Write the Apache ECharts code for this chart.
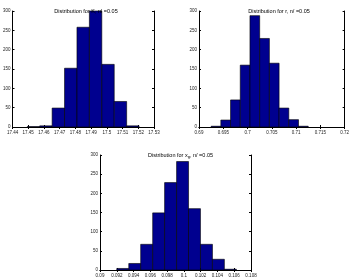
<!DOCTYPE html>
<html>
<head>
<meta charset="utf-8">
<script src="https://cdn.jsdelivr.net/npm/echarts@6/dist/echarts.min.js"></script>
<style>
  html, body { margin: 0; padding: 0; background: #fff; }
  #main { width: 352px; height: 280px; }
</style>
</head>
<body>
<div id="main"></div>
<script>
// histogram data (bin start, counts); bins are equal width
var kStarts = [17.4494, 17.4573, 17.4652, 17.4731, 17.4810, 17.4889, 17.4968, 17.5047, 17.5126];
var kCounts = [1, 3, 49, 152, 258, 300, 162, 66, 3];
var kWidth = 0.0079;

var rStarts = [0.6925, 0.6945, 0.6965, 0.6985, 0.7005, 0.7025, 0.7045, 0.7065, 0.7085, 0.7105];
var rCounts = [2, 18, 70, 160, 288, 229, 165, 49, 19, 2];
var rWidth = 0.002;

var xgStarts = [0.0920, 0.09343, 0.09485, 0.09628, 0.0977, 0.09913, 0.10055, 0.10198, 0.1034, 0.10483];
var xgCounts = [4, 17, 67, 149, 228, 283, 160, 67, 28, 2];
var xgWidth = 0.001425;

var yTicks = [0, 50, 100, 150, 200, 250, 300];

var titles = ['Distribution for K, nl =0.05', 'Distribution for r, n/ =0.05', 'Distribution for {n|x}{s|g}{n|, n/ =0.05}'];

var grids = [
    {left: 8, top: 11, width: 146, height: 116},
    {left: 199, top: 11, width: 150, height: 116},
    {left: 100, top: 155, width: 151, height: 115}
];
var xRanges = [[17.44, 17.53, 0.01], [0.69, 0.72, 0.005], [0.09, 0.108, 0.002]];

function toBins(starts, counts, w) {
    var out = [];
    for (var i = 0; i < starts.length; i++) out.push([starts[i], starts[i] + w, counts[i]]);
    return out;
}
var binData = [toBins(kStarts, kCounts, kWidth), toBins(rStarts, rCounts, rWidth), toBins(xgStarts, xgCounts, xgWidth)];

var axisLine = {lineStyle: {color: '#000', width: 1}};
var lbl = {fontSize: 4.5, color: '#222', fontFamily: 'Liberation Sans'};

var xAxes = [], yAxes = [], series = [], titleOpts = [];
grids.forEach(function (g, i) {
    var xr = xRanges[i];
    xAxes.push({
        gridIndex: i, type: 'value', min: xr[0], max: xr[1], interval: xr[2],
        axisLine: axisLine, axisTick: {inside: true, length: 2, lineStyle: {color: '#000'}},
        axisLabel: Object.assign({margin: 3, showMaxLabel: true, showMinLabel: true,
            formatter: function (v) { return String(+v.toFixed(4)); }}, lbl),
        splitLine: {show: false}
    });
    xAxes.push({
        gridIndex: i, type: 'value', position: 'top', min: xr[0], max: xr[1], interval: xr[2],
        axisLine: axisLine, axisTick: {inside: true, length: 2, lineStyle: {color: '#000'}},
        axisLabel: {show: false}, splitLine: {show: false}
    });
    yAxes.push({
        gridIndex: i, type: 'value', min: 0, max: 300, interval: 50,
        axisLine: Object.assign({show: true}, axisLine),
        axisTick: {show: true, inside: true, length: 2, lineStyle: {color: '#000'}},
        axisLabel: Object.assign({margin: 2}, lbl),
        splitLine: {show: false}
    });
    yAxes.push({
        gridIndex: i, type: 'value', position: 'right', min: 0, max: 300, interval: 50,
        axisLine: Object.assign({show: true}, axisLine),
        axisTick: {show: true, inside: true, length: 2, lineStyle: {color: '#000'}},
        axisLabel: {show: false}, splitLine: {show: false}
    });
    series.push({
        type: 'custom',
        xAxisIndex: i * 2, yAxisIndex: i * 2,
        data: binData[i],
        renderItem: function (params, api) {
            var p0 = api.coord([api.value(0), api.value(2)]);
            var p1 = api.coord([api.value(1), 0]);
            return {
                type: 'rect',
                shape: {x: p0[0], y: p0[1], width: p1[0] - p0[0], height: p1[1] - p0[1]},
                style: {fill: '#00008f', stroke: '#000', lineWidth: 0.6}
            };
        },
        encode: {x: [0, 1], y: 2}
    });
    titleOpts.push({
        text: titles[i],
        left: g.left + g.width / 2, top: g.top - 8, textAlign: 'center',
        textStyle: {fontSize: 5.5, fontWeight: 'normal', color: '#000', fontFamily: 'Liberation Sans',
            rich: {n: {fontSize: 5.5, color: '#000'}, s: {fontSize: 4, color: '#000', verticalAlign: 'bottom', padding: [3, 0, 0, 0]}}}
    });
});

var myChart = echarts.init(document.getElementById('main'));
myChart.setOption({
    animation: false,
    backgroundColor: '#fff',
    title: titleOpts,
    grid: grids,
    xAxis: xAxes,
    yAxis: yAxes,
    series: series
});
</script>
</body>
</html>
